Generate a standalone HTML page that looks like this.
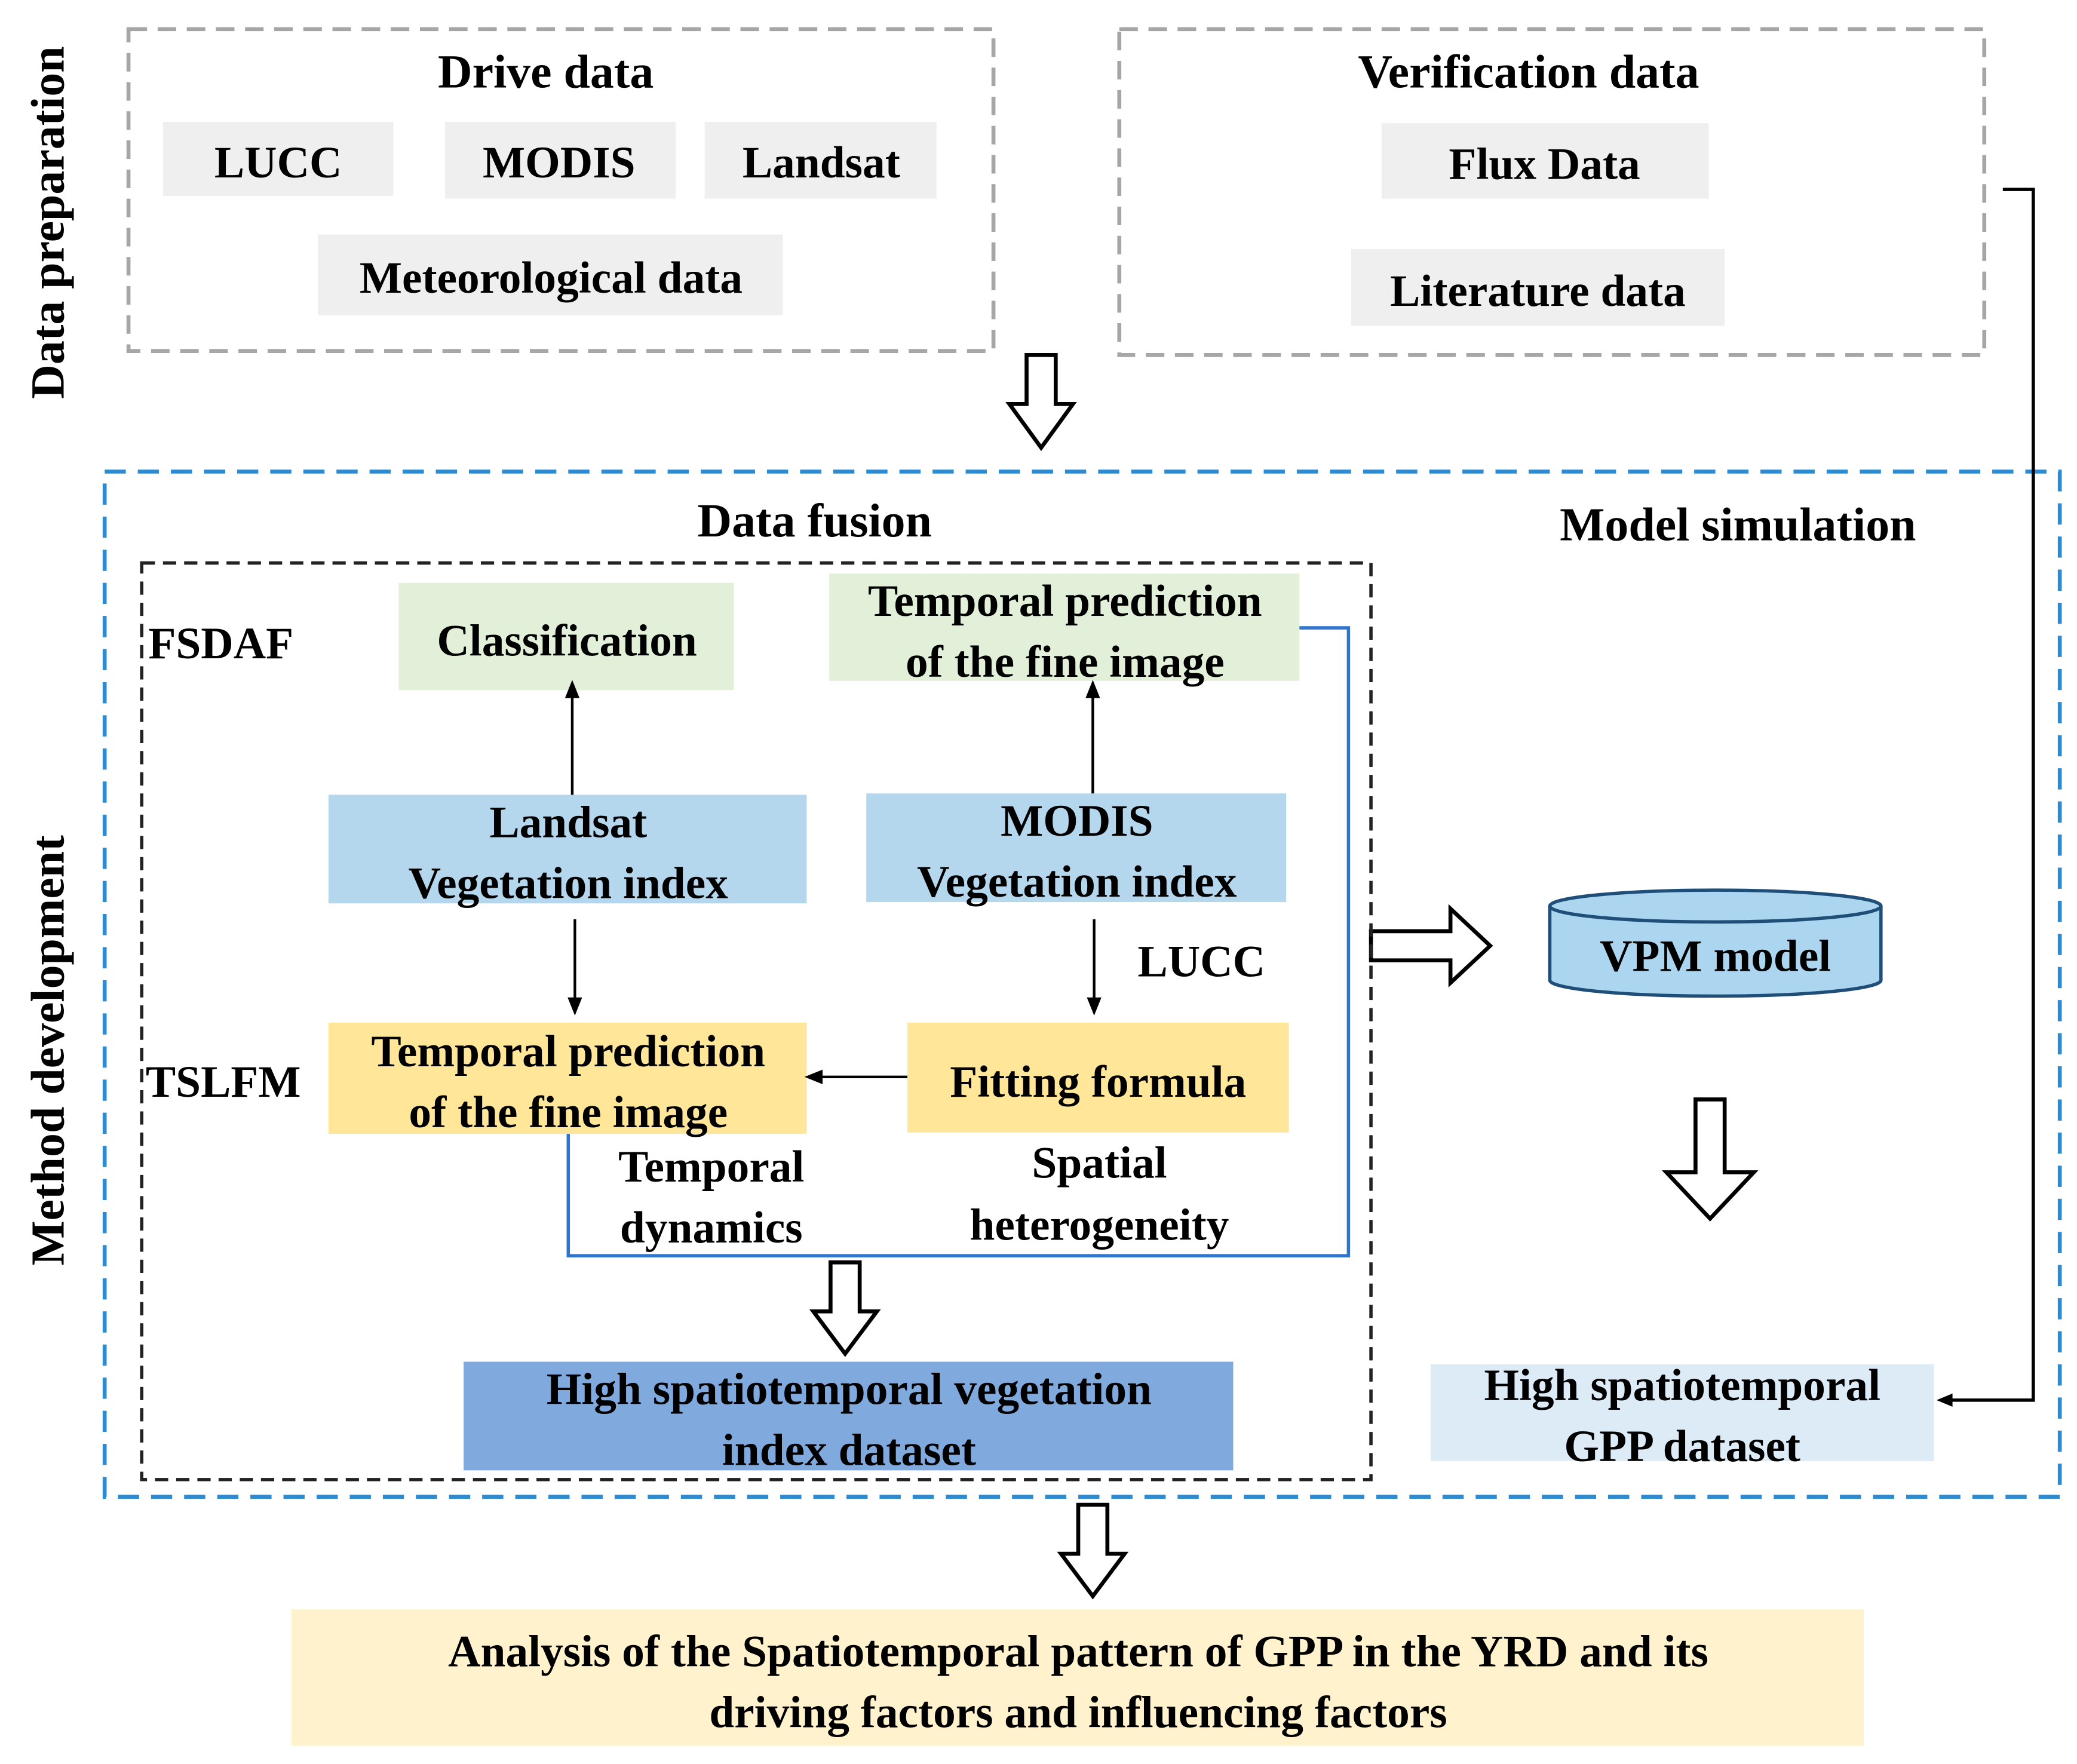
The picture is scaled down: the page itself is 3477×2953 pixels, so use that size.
<!DOCTYPE html>
<html><head><meta charset="utf-8"><style>html,body{margin:0;padding:0;background:#fff}svg{display:block}</style></head>
<body>
<svg width="3477" height="2953" viewBox="0 0 1568 1331.7" xmlns="http://www.w3.org/2000/svg" font-family="Liberation Serif, serif" font-weight="bold" font-size="34" text-anchor="middle">
<rect width="1568" height="1332" fill="#fff"/>
<!-- side labels -->
<text transform="translate(48,168) rotate(-90)" font-size="36">Data preparation</text>
<text transform="translate(48,793) rotate(-90)" font-size="36">Method development</text>
<!-- Drive data -->
<rect x="97" y="22" width="653" height="243" fill="none" stroke="#a6a6a6" stroke-width="3" stroke-dasharray="14,8"/>
<text x="412" y="66" font-size="36">Drive data</text>
<rect x="123" y="92" width="174" height="56" fill="#efefef"/><text x="210" y="134">LUCC</text>
<rect x="336" y="92" width="174" height="58" fill="#efefef"/><text x="422" y="134">MODIS</text>
<rect x="532" y="92" width="175" height="58" fill="#efefef"/><text x="620" y="134">Landsat</text>
<rect x="240" y="177" width="351" height="61" fill="#efefef"/><text x="416" y="221">Meteorological data</text>
<!-- Verification -->
<rect x="845" y="22" width="653" height="246" fill="none" stroke="#a6a6a6" stroke-width="3" stroke-dasharray="14,8"/>
<text x="1154" y="66" font-size="36">Verification data</text>
<rect x="1043" y="93" width="247" height="57" fill="#efefef"/><text x="1166" y="135">Flux Data</text>
<rect x="1020" y="188" width="282" height="58" fill="#efefef"/><text x="1161" y="231">Literature data</text>
<!-- hollow arrows -->
<g fill="#fff" stroke="#000" stroke-width="3" stroke-linejoin="miter">
<polygon points="775,268 797,268 797,305 810,305 786,338 762,305 775,305"/>
<polygon points="627,953 649,953 649,990 662,990 638,1022 614,990 627,990"/>
<polygon points="1280,830 1302,830 1302,885 1324,885 1291,920 1258,885 1280,885"/>
<polygon points="814,1136 836,1136 836,1173 849,1173 825,1205 801,1173 814,1173"/>
<polygon points="1035,703 1095,703 1095,686 1125,714 1095,742 1095,725 1035,725"/>
</g>
<!-- method development -->
<rect x="79" y="356" width="1476" height="774" fill="none" stroke="#2e8bd0" stroke-width="3" stroke-dasharray="16,9"/>
<text x="615" y="405" font-size="36">Data fusion</text>
<text x="1312" y="408" font-size="36">Model simulation</text>
<rect x="107" y="425" width="928" height="692" fill="none" stroke="#222" stroke-width="2.5" stroke-dasharray="10,6"/>
<text x="112" y="497" text-anchor="start">FSDAF</text>
<text x="110" y="828" text-anchor="start">TSLFM</text>
<rect x="301" y="440" width="253" height="81" fill="#e2f0d9"/><text x="428" y="495">Classification</text>
<rect x="626" y="433" width="355" height="81" fill="#e2f0d9"/><text x="804" y="465">Temporal prediction</text><text x="804" y="511">of the fine image</text>
<rect x="248" y="600" width="361" height="82" fill="#b4d7ee"/><text x="429" y="632">Landsat</text><text x="429" y="678">Vegetation index</text>
<rect x="654" y="599" width="317" height="82" fill="#b4d7ee"/><text x="813" y="631">MODIS</text><text x="813" y="677">Vegetation index</text>
<rect x="248" y="772" width="361" height="84" fill="#ffe699"/><text x="429" y="805">Temporal prediction</text><text x="429" y="851">of the fine image</text>
<rect x="685" y="772" width="288" height="83" fill="#ffe699"/><text x="829" y="828">Fitting formula</text>
<text x="907" y="737">LUCC</text>
<text x="537" y="892">Temporal</text><text x="537" y="938">dynamics</text>
<text x="830" y="889">Spatial</text><text x="830" y="936">heterogeneity</text>
<!-- thin arrows -->
<g stroke="#000" stroke-width="2" fill="#000">
<line x1="432" y1="600" x2="432" y2="524"/><polygon points="428,526 436,526 432,516"/>
<line x1="825" y1="599" x2="825" y2="524"/><polygon points="821,526 829,526 825,516"/>
<line x1="434" y1="694" x2="434" y2="756"/><polygon points="430,754 438,754 434,764"/>
<line x1="826" y1="694" x2="826" y2="756"/><polygon points="822,754 830,754 826,764"/>
<line x1="685" y1="813" x2="618" y2="813"/><polygon points="620,809 620,817 610,813"/>
</g>
<polyline points="981,474 1018,474 1018,948 429,948 429,856" fill="none" stroke="#2e75d0" stroke-width="2.5"/>
<rect x="350" y="1028" width="581" height="82" fill="#80aade"/><text x="641" y="1060">High spatiotemporal vegetation</text><text x="641" y="1106">index dataset</text>
<!-- VPM cylinder -->
<path d="M1170,684 L1170,740 A125,12 0 0 0 1420,740 L1420,684" fill="#acd5ef" stroke="#1f4e79" stroke-width="2.5"/>
<ellipse cx="1295" cy="684" rx="125" ry="12" fill="#acd5ef" stroke="#1f4e79" stroke-width="2.5"/>
<text x="1295" y="733">VPM model</text>
<rect x="1080" y="1030" width="380" height="73" fill="#ddebf7"/><text x="1270" y="1057">High spatiotemporal</text><text x="1270" y="1103">GPP dataset</text>
<polyline points="1512,143 1535,143 1535,1057 1472,1057" fill="none" stroke="#000" stroke-width="2.5"/>
<polygon points="1474,1052 1474,1062 1462,1057" fill="#000"/>
<!-- bottom -->
<rect x="220" y="1215" width="1187" height="103" fill="#fff2cc"/>
<text x="814" y="1258">Analysis of the Spatiotemporal pattern of GPP in the YRD and its</text>
<text x="814" y="1304">driving factors and influencing factors</text>
</svg>
</body></html>
